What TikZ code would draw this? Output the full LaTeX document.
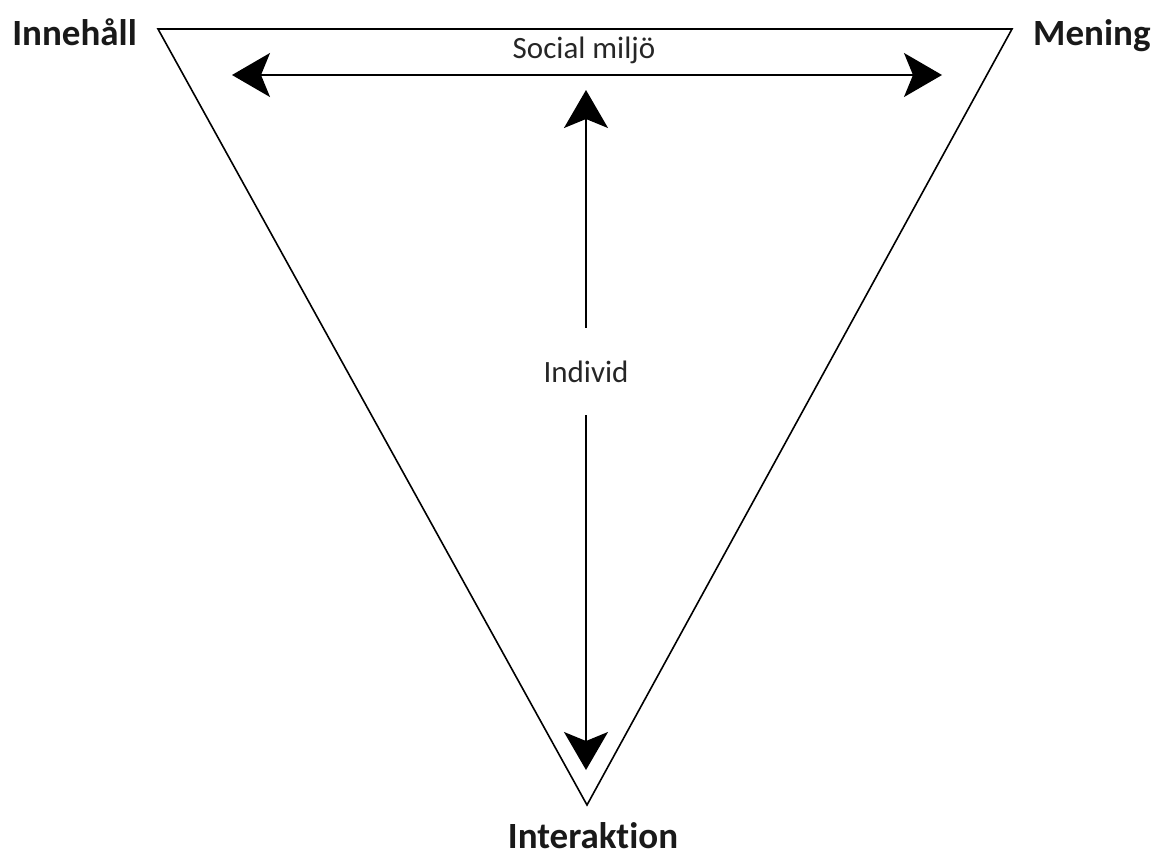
\documentclass[tikz,border=0pt]{standalone}
\usepackage{fontspec}
\setmainfont{Carlito}[Ligatures=NoCommon]
\usetikzlibrary{arrows.meta, positioning}
\tikzstyle{arrow}      = [line width=1.6pt, -{Stealth[length=38pt, width=44pt, inset=9pt]}]
\tikzstyle{dblarrow}   = [line width=1.6pt, {Stealth[length=38pt, width=44pt, inset=9pt]}-{Stealth[length=38pt, width=44pt, inset=9pt]}]
\tikzstyle{side}       = [line width=1.6pt, line join=miter]
\tikzstyle{cornertext} = [font=\fontsize{37}{40}\selectfont\bfseries, inner sep=0pt, text=black!90]
\tikzstyle{midtext}    = [font=\fontsize{31}{34}\selectfont, inner sep=0pt, text=black!85]

\begin{document}
\begin{tikzpicture}[x=1pt, y=-1pt]
\useasboundingbox (0,0) rectangle (1159,855);

% vrcholy trojúhelníku
\coordinate (tl) at (158,29);
\coordinate (tr) at (1012,29);
\coordinate (bt) at (587,805);

% trojúhelník
\draw[side] (tl) -- (tr) -- (bt) -- cycle;
\draw[side, line width=2.4pt] (tl) -- (tr);

% popisky vrcholů
\node[cornertext, anchor=base east] (innehall)    at (137,45)  {Innehåll};
\node[cornertext, anchor=base west] (mening)      at (1033,45) {Mening};
\node[cornertext, anchor=base]      (interaktion) at (593,848) {Interaktion};

% vodorovná šipka
\node[midtext, anchor=base] (social) at (584,58) {Social miljö};
\coordinate (sl) at (232,75);
\coordinate (sr) at (942,75);
\draw[dblarrow] (sl) -- (sr);

% svislá šipka
\node[midtext, minimum height=87pt] (individ) at (586,371.5) {Individ};
\coordinate (up)   at (586,90);
\coordinate (down) at (586,770);
\draw[arrow] (individ.north) -- (up);
\draw[arrow] (individ.south) -- (down);

\end{tikzpicture}
\end{document}
